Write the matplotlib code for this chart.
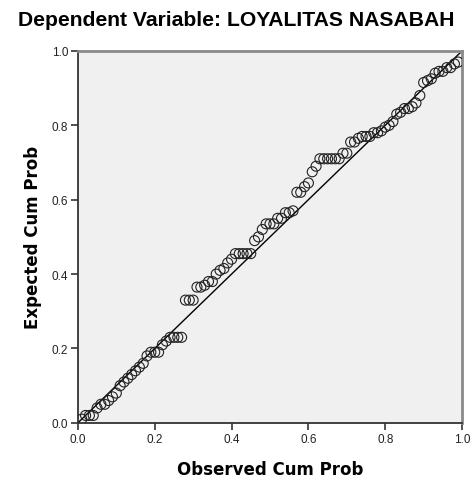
import matplotlib
matplotlib.use("Agg")
import matplotlib.pyplot as plt

# P-P plot points (observed, expected)
observed = [0.01, 0.02, 0.03, 0.04, 0.05, 0.06, 0.07, 0.08, 0.09, 0.10,
            0.11, 0.12, 0.13, 0.14, 0.15, 0.16, 0.17, 0.18, 0.19, 0.20,
            0.21, 0.22, 0.23, 0.24, 0.25, 0.26, 0.27,
            0.28, 0.29, 0.30, 0.31, 0.32, 0.33, 0.34, 0.35, 0.36, 0.37,
            0.38, 0.39, 0.40, 0.41, 0.42, 0.43, 0.44, 0.45, 0.46, 0.47,
            0.48, 0.49, 0.50, 0.51, 0.52, 0.53, 0.54, 0.55, 0.56, 0.57,
            0.58, 0.59, 0.60, 0.61, 0.62, 0.63, 0.64, 0.65, 0.66, 0.67,
            0.68, 0.69, 0.70, 0.71, 0.72, 0.73, 0.74, 0.75, 0.76, 0.77,
            0.78, 0.79, 0.80, 0.81, 0.82, 0.83, 0.84, 0.85, 0.86, 0.87,
            0.88, 0.89, 0.90, 0.91, 0.92, 0.93, 0.94, 0.95, 0.96, 0.97,
            0.98, 0.99]
expected = [0.01, 0.02, 0.02, 0.02, 0.04, 0.05, 0.05, 0.06, 0.07, 0.08,
            0.10, 0.11, 0.12, 0.13, 0.14, 0.15, 0.16, 0.18, 0.19, 0.19,
            0.19, 0.21, 0.22, 0.23, 0.23, 0.23, 0.23,
            0.33, 0.33, 0.33, 0.365, 0.365, 0.37, 0.38, 0.38, 0.40, 0.41,
            0.415, 0.43, 0.44, 0.455, 0.455, 0.455, 0.455, 0.455, 0.49, 0.50,
            0.52, 0.535, 0.535, 0.535, 0.55, 0.55, 0.565, 0.565, 0.57, 0.62,
            0.62, 0.635, 0.645, 0.675, 0.69, 0.71, 0.71, 0.71, 0.71, 0.71,
            0.71, 0.725, 0.725, 0.755, 0.755, 0.765, 0.77, 0.77, 0.77, 0.78,
            0.78, 0.785, 0.795, 0.80, 0.81, 0.83, 0.835, 0.845, 0.845, 0.85,
            0.86, 0.88, 0.915, 0.92, 0.925, 0.94, 0.945, 0.945, 0.955, 0.955,
            0.965, 0.97]

ticks = [0.0, 0.2, 0.4, 0.6, 0.8, 1.0]

fig = plt.figure(figsize=(4.72, 4.85), dpi=100)
ax = fig.add_axes([0.165, 0.126, 0.814, 0.767])
ax.set_facecolor('#f0f0f0')

ax.plot([0, 1], [0, 1], color='black', lw=1.0, zorder=2)
ax.scatter(observed, expected, s=52, facecolors='none', edgecolors='#222222',
           linewidths=0.8, zorder=3)

ax.set_xlim(0, 1)
ax.set_ylim(0, 1)
ax.set_xticks(ticks)
ax.set_yticks(ticks)
ax.set_xticklabels(['%.1f' % t for t in ticks])
ax.set_yticklabels(['%.1f' % t for t in ticks])
ax.tick_params(direction='out', length=5, width=1.2, color='#333333',
               labelsize=8.5, labelcolor='#222222', pad=2)
for lab in ax.get_xticklabels() + ax.get_yticklabels():
    lab.set_family('Liberation Sans')

for side in ['left', 'bottom']:
    ax.spines[side].set_color('#333333')
    ax.spines[side].set_linewidth(1.3)
for side in ['top', 'right']:
    ax.spines[side].set_color('#8a8a8a')
    ax.spines[side].set_linewidth(2)

ax.set_xlabel('Observed Cum Prob', fontsize=12, fontweight='bold',
              family='DejaVu Sans', labelpad=11)
ax.set_ylabel('Expected Cum Prob', fontsize=12, fontweight='bold',
              family='DejaVu Sans', labelpad=7)

fig.text(0.5, 0.958, 'Dependent Variable: LOYALITAS NASABAH', ha='center',
         va='center', fontsize=15.2, fontweight='bold', family='Liberation Sans')

fig.savefig('out.png', dpi=100)
